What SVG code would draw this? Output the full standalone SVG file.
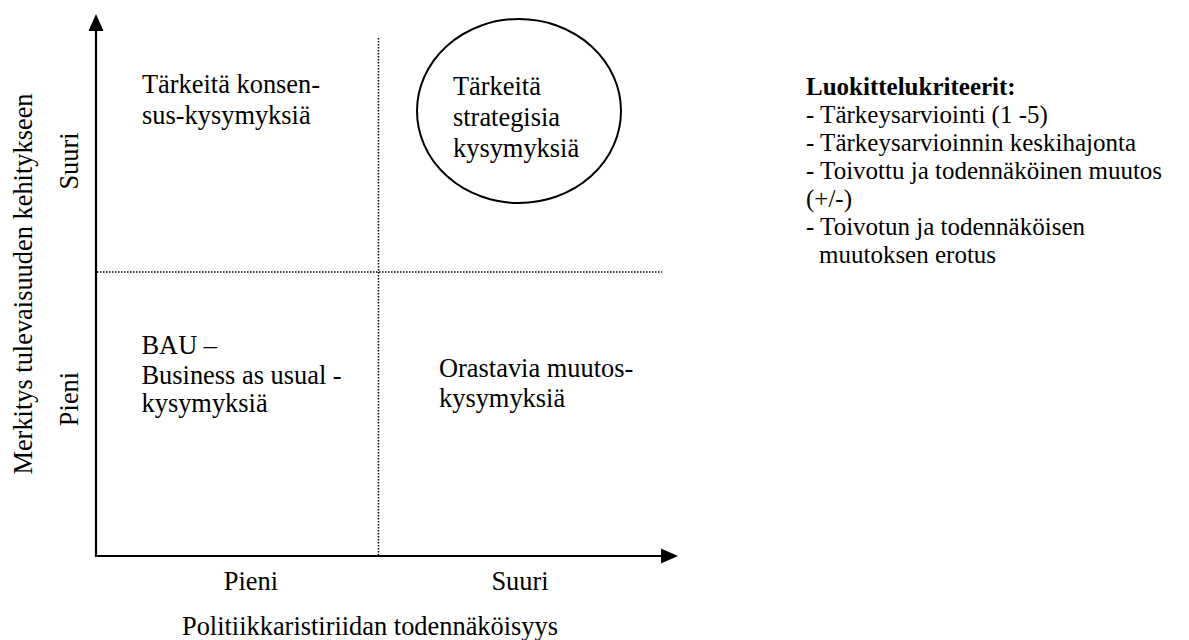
<svg xmlns="http://www.w3.org/2000/svg" width="1189" height="640" viewBox="0 0 1189 640">
<style>
text { font-family: "Liberation Serif", "Times New Roman", serif; font-size: 26.4px; fill: #000; }
#legend text { font-size: 25px; }
.b { font-weight: bold; }
.axis { stroke: #000; stroke-width: 2.2; fill: none; }
.dot { stroke: #000; stroke-width: 1.5; stroke-dasharray: 1.5 1.5; fill: none; }
.mid { text-anchor: middle; }
</style>
<rect width="1189" height="640" fill="#fff"/>
<g id="connectors">
  <line class="axis" x1="96" y1="557" x2="96" y2="30"/>
  <polygon points="96,14 88.5,31 103.5,31" fill="#000"/>
  <line class="axis" x1="95" y1="556" x2="662" y2="556"/>
  <polygon points="678,556 661,548.5 661,563.5" fill="#000"/>
  <line class="dot" x1="378.5" y1="38" x2="378.5" y2="555"/>
  <line class="dot" x1="97" y1="272" x2="662" y2="272"/>
</g>
<g id="axis-labels">
  <text class="mid" transform="translate(31.5,284) rotate(-90)">Merkitys tulevaisuuden kehitykseen</text>
  <text class="mid" transform="translate(78,161) rotate(-90)">Suuri</text>
  <text class="mid" transform="translate(78,399) rotate(-90)">Pieni</text>
  <text class="mid" x="251" y="590">Pieni</text>
  <text class="mid" x="520" y="590">Suuri</text>
  <text class="mid" x="370" y="635">Politiikkaristiriidan todennäköisyys</text>
</g>
<g id="q-konsensus">
  <text x="142" y="93">Tärkeitä konsen-</text>
  <text x="142" y="123.5">sus-kysymyksiä</text>
</g>
<g id="q-strategiset">
  <ellipse cx="519" cy="111" rx="102" ry="92" fill="none" stroke="#000" stroke-width="2"/>
  <text x="453" y="95">Tärkeitä</text>
  <text x="453" y="126">strategisia</text>
  <text x="453" y="156.5">kysymyksiä</text>
</g>
<g id="q-bau">
  <text x="141.5" y="354">BAU –</text>
  <text x="141.5" y="383.5">Business as usual -</text>
  <text x="141.5" y="412">kysymyksiä</text>
</g>
<g id="q-orastavia">
  <text x="439" y="377">Orastavia muutos-</text>
  <text x="439" y="407">kysymyksiä</text>
</g>
<g id="legend">
  <text class="b" x="806" y="95">Luokittelukriteerit:</text>
  <text x="806" y="123">- Tärkeysarviointi (1 -5)</text>
  <text x="806" y="151">- Tärkeysarvioinnin keskihajonta</text>
  <text x="806" y="179">- Toivottu ja todennäköinen muutos</text>
  <text x="806" y="207">(+/-)</text>
  <text x="806" y="235">- Toivotun ja todennäköisen</text>
  <text x="819" y="263">muutoksen erotus</text>
</g>
</svg>
